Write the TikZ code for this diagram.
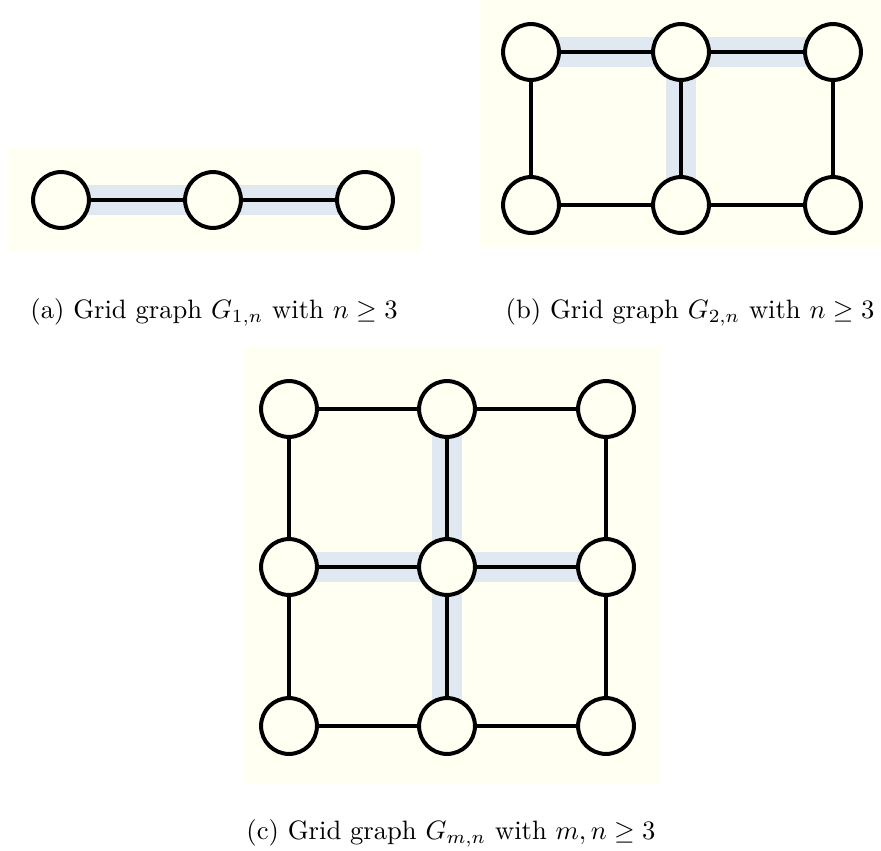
\documentclass[tikz,border=0pt]{standalone}
\usepackage{amssymb}
\usetikzlibrary{backgrounds}
\definecolor{ivory}{RGB}{255,255,242}
\definecolor{hilite}{RGB}{224,233,242}
\tikzset{
  vtx/.style={circle, draw=black, fill=ivory, line width=1.5pt, minimum size=21pt, inner sep=0pt},
  edg/.style={draw=black, line width=1.3pt},
  hl/.style={draw=hilite, line width=11pt},
  panel/.style={fill=ivory, draw=none},
  captxt/.style={inner sep=0pt, font=\normalsize}
}
\begin{document}
\begin{tikzpicture}[x=0.376pt,y=-0.376pt]
\useasboundingbox (0,0) rectangle (881,850);
% panel (a)
\node[vtx] (a1) at (61,200) {};
\node[vtx] (a2) at (213,200) {};
\node[vtx] (a3) at (365,200) {};
% panel (b)
\node[vtx] (b11) at (531,52) {};
\node[vtx] (b12) at (681,52) {};
\node[vtx] (b13) at (833,52) {};
\node[vtx] (b21) at (531,205) {};
\node[vtx] (b22) at (681,205) {};
\node[vtx] (b23) at (833,205) {};
% panel (c)
\node[vtx] (c11) at (289,409) {};
\node[vtx] (c12) at (447,409) {};
\node[vtx] (c13) at (606,409) {};
\node[vtx] (c21) at (289,567) {};
\node[vtx] (c22) at (447,567) {};
\node[vtx] (c23) at (606,567) {};
\node[vtx] (c31) at (289,726) {};
\node[vtx] (c32) at (447,726) {};
\node[vtx] (c33) at (606,726) {};
\begin{scope}[on background layer]
  \fill[panel] (7,148) rectangle (422,252);
  \fill[panel] (480,0) rectangle (881,248);
  \fill[panel] (244,347) rectangle (660,783);
  % highlights
  \draw[hl] (a1.center) -- (a2.center) -- (a3.center);
  \draw[hl] (b11.center) -- (b12.center) -- (b13.center);
  \draw[hl] (b12.center) -- (b22.center);
  \draw[hl] (c12.center) -- (c22.center) -- (c32.center);
  \draw[hl] (c21.center) -- (c22.center) -- (c23.center);
  % edges
  \draw[edg] (a1.center) -- (a2.center) -- (a3.center);
  \draw[edg] (b11.center) -- (b12.center) -- (b13.center);
  \draw[edg] (b21.center) -- (b22.center) -- (b23.center);
  \draw[edg] (b11.center) -- (b21.center);
  \draw[edg] (b12.center) -- (b22.center);
  \draw[edg] (b13.center) -- (b23.center);
  \foreach \r in {1,2,3}{
    \draw[edg] (c\r1.center) -- (c\r2.center) -- (c\r3.center);
    \draw[edg] (c1\r.center) -- (c2\r.center) -- (c3\r.center);
  }
\end{scope}
% captions
\node[captxt] (capa) at (214,312) {(a) Grid graph $G_{1,n}$ with $n \geq 3$};
\node[captxt] (capb) at (690,312) {(b) Grid graph $G_{2,n}$ with $n \geq 3$};
\node[captxt] (capc) at (451,833) {(c) Grid graph $G_{m,n}$ with $m,n \geq 3$};
\end{tikzpicture}
\end{document}
